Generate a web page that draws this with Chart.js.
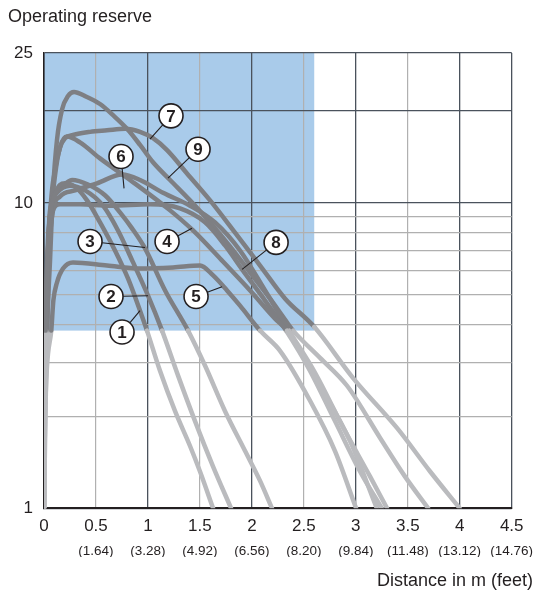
<!DOCTYPE html>
<html>
<head>
<meta charset="utf-8">
<script src="https://cdn.jsdelivr.net/npm/chart.js@4.4.0/dist/chart.umd.min.js"></script>
<style>
html,body{margin:0;padding:0;background:#fff;}
#wrap{width:538px;height:596px;}
</style>
</head>
<body>
<div id="wrap"><canvas id="c" width="538" height="596"></canvas></div>
<script>
// ---------- data ----------
const xTickValues = [0, 0.5, 1, 1.5, 2, 2.5, 3, 3.5, 4, 4.5];
const xTickLabels = ['0', '0.5', '1', '1.5', '2', '2.5', '3', '3.5', '4', '4.5'];
const feetLabels  = ['', '(1.64)', '(3.28)', '(4.92)', '(6.56)', '(8.20)', '(9.84)', '(11.48)', '(13.12)', '(14.76)'];
const yGridValues = [1, 2, 3, 4, 5, 6, 7, 8, 9, 10, 20, 31];
const yLabelValues = [1, 10, 31];
const yLabelTexts  = ['1', '10', '25'];
const yMin = 1, yMax = 31;
const blueXMax = 2.6, blueYMin = 3.82;

const c1x = [0, 0.005, 0.015, 0.048, 0.106, 0.202, 0.298, 0.414, 0.539, 0.683, 0.808, 0.924, 0.991, 1.116, 1.261, 1.405, 1.501, 1.627];
const c1y = [1, 2, 3.82, 8.13, 10.6, 11.6, 11.3, 10.2, 8.64, 6.99, 5.66, 4.44, 3.82, 2.82, 2.08, 1.60, 1.32, 1];
const c2x = [0, 0.006, 0.018, 0.058, 0.125, 0.25, 0.395, 0.568, 0.712, 0.857, 1.001, 1.136, 1.29, 1.453, 1.627, 1.80];
const c2y = [1, 2, 3.82, 9.11, 10.8, 11.4, 11.0, 9.8, 8.13, 6.39, 4.97, 3.82, 2.72, 1.93, 1.37, 1];
const c3x = [0, 0.007, 0.02, 0.058, 0.135, 0.27, 0.423, 0.587, 0.731, 0.847, 0.972, 1.165, 1.386, 1.55, 1.742, 1.935, 2.079, 2.194];
const c3y = [1, 2, 3.82, 9.46, 11.0, 11.9, 11.5, 10.6, 9.32, 8.26, 7.10, 5.17, 3.82, 2.93, 2.08, 1.54, 1.23, 1];
const c4x = [0, 0.008, 0.025, 0.058, 0.106, 0.154, 0.221, 0.346, 0.539, 0.828, 1.213, 1.434, 1.694, 1.983, 2.223, 2.339, 2.656, 2.945, 3.202];
const c4y = [1, 2, 3.82, 8.13, 12.3, 15.2, 16.5, 15.8, 14.0, 11.9, 9.46, 8.13, 6.58, 5.17, 4.18, 3.82, 2.52, 1.66, 1];
const c5x = [0, 0.01, 0.07, 0.09, 0.125, 0.183, 0.279, 0.606, 0.924, 1.242, 1.501, 1.627, 1.761, 1.886, 2.079, 2.271, 2.56, 2.80, 3.003];
const c5y = [1, 2, 3.82, 4.79, 5.49, 6.10, 6.39, 6.24, 6.10, 6.15, 6.24, 5.79, 5.17, 4.61, 3.82, 3.28, 2.25, 1.54, 1];
const c6x = [0, 0.006, 0.02, 0.048, 0.087, 0.154, 0.298, 0.51, 0.751, 0.924, 1.145, 1.405, 1.646, 1.886, 2.127, 2.358, 2.608, 2.897, 3.138, 3.301];
const c6y = [1, 2, 3.82, 6.99, 9.46, 10.5, 11.0, 11.6, 12.4, 11.9, 10.8, 9.8, 8.64, 6.99, 5.17, 3.82, 2.78, 1.79, 1.27, 1];
const c7x = [0, 0.01, 0.03, 0.058, 0.106, 0.154, 0.202, 0.279, 0.443, 0.606, 0.78, 0.924, 1.049, 1.184, 1.376, 1.598, 1.838, 2.079, 2.32, 2.6, 2.974, 3.398, 3.715, 4.0];
const c7y = [1, 2, 3.82, 8.77, 12.8, 15.2, 16.3, 16.7, 17.1, 17.3, 17.5, 17.1, 16.3, 14.9, 12.5, 10.2, 8.0, 6.24, 4.86, 3.93, 2.67, 1.83, 1.32, 1];
const c8x = [0, 0.004, 0.015, 0.038, 0.077, 0.154, 0.346, 0.635, 1.02, 1.309, 1.55, 1.742, 1.906, 2.127, 2.329, 2.56, 2.80, 3.041, 3.25];
const c8y = [1, 2, 3.82, 7.54, 9.32, 9.9, 9.9, 9.8, 9.9, 9.6, 8.64, 7.26, 6.06, 4.79, 3.82, 2.82, 1.93, 1.32, 1];
const c9x = [0, 0.014, 0.029, 0.058, 0.087, 0.125, 0.173, 0.231, 0.289, 0.395, 0.539, 0.664, 0.799, 0.924, 1.049, 1.213, 1.405, 1.598, 1.79, 1.983, 2.175, 2.339, 2.397, 2.656, 2.916, 3.234, 3.474, 3.696];
const c9y = [1, 2, 3.82, 6.48, 11.0, 16.1, 20.2, 22.4, 23.1, 22.4, 21.1, 19.4, 17.5, 15.5, 13.6, 11.9, 10.2, 8.64, 7.21, 5.92, 4.86, 4.06, 3.82, 3.11, 2.52, 1.70, 1.27, 1];

const labelNums = ['1', '2', '3', '4', '5', '6', '7', '8', '9'];
const labelX  = [0.751, 0.645, 0.443, 1.184, 1.463, 0.741, 1.222, 2.233, 1.482];
const labelY  = [3.78, 4.94, 7.48, 7.48, 4.94, 14.2, 19.3, 7.43, 15.0];
const leaderX = [0.924, 1.001, 0.972, 1.424, 1.713, 0.770, 1.020, 1.906, 1.193];
const leaderY = [4.44, 4.97, 7.15, 8.26, 5.32, 11.17, 16.2, 6.06, 12.06];

// ---------- styling ----------
const FONT = '"Liberation Sans", Arial, Helvetica, sans-serif';
const TEXT = '#231f20';
const DARK_LINE = '#7e7f83';
const LIGHT_LINE = '#babbbe';
const BLUE = '#a9cbea';
const GRID_DARK = '#4a525c';
const GRID_LIGHT = '#b0b0b0';

const curvesX = [c1x, c2x, c3x, c4x, c5x, c6x, c7x, c8x, c9x];
const curvesY = [c1y, c2y, c3y, c4y, c5y, c6y, c7y, c8y, c9y];

function inside(x, y) { return x <= blueXMax + 1e-9 && y >= blueYMin - 1e-9; }

const datasets = curvesX.map((xs, k) => ({
  label: 'Curve ' + (k + 1),
  data: xs.map((x, i) => ({ x: x, y: curvesY[k][i] })),
  borderWidth: 4.5,
  borderColor: DARK_LINE,
  pointRadius: 0,
  fill: false,
  cubicInterpolationMode: 'monotone',
  borderCapStyle: 'round',
  borderJoinStyle: 'round',
  segment: {
    borderColor: ctx => {
      const d = ctx.chart.data.datasets[ctx.datasetIndex].data;
      const a = d[ctx.p0DataIndex], b = d[ctx.p1DataIndex];
      return (inside(a.x, a.y) && inside(b.x, b.y)) ? DARK_LINE : LIGHT_LINE;
    }
  }
}));

const bluePlugin = {
  id: 'blueRegion',
  beforeDraw(chart) {
    const { ctx } = chart;
    const xs = chart.scales.x, ys = chart.scales.y;
    const x0 = xs.getPixelForValue(0), x1 = xs.getPixelForValue(blueXMax);
    const y0 = ys.getPixelForValue(yMax), y1 = ys.getPixelForValue(blueYMin);
    ctx.save();
    ctx.fillStyle = BLUE;
    ctx.fillRect(x0, y0, x1 - x0, y1 - y0);
    ctx.restore();
  }
};

const labelPlugin = {
  id: 'circleLabels',
  afterDatasetsDraw(chart) {
    const { ctx } = chart;
    const xs = chart.scales.x, ys = chart.scales.y;
    const r = 12;
    ctx.save();
    for (let i = 0; i < labelNums.length; i++) {
      const cx = xs.getPixelForValue(labelX[i]), cy = ys.getPixelForValue(labelY[i]);
      const tx = xs.getPixelForValue(leaderX[i]), ty = ys.getPixelForValue(leaderY[i]);
      const dx = tx - cx, dy = ty - cy, len = Math.hypot(dx, dy) || 1;
      ctx.beginPath();
      ctx.moveTo(cx + dx / len * r, cy + dy / len * r);
      ctx.lineTo(tx, ty);
      ctx.strokeStyle = TEXT;
      ctx.lineWidth = 1.1;
      ctx.stroke();
      ctx.beginPath();
      ctx.arc(cx, cy, r, 0, Math.PI * 2);
      ctx.fillStyle = '#ffffff';
      ctx.fill();
      ctx.lineWidth = 1.6;
      ctx.strokeStyle = TEXT;
      ctx.stroke();
      ctx.fillStyle = TEXT;
      ctx.font = 'bold 17px ' + FONT;
      ctx.textAlign = 'center';
      ctx.textBaseline = 'middle';
      ctx.fillText(labelNums[i], cx, cy + 1);
    }
    ctx.restore();
  }
};

function setXTicks(scale) { scale.ticks = xTickValues.map(v => ({ value: v })); }

new Chart(document.getElementById('c'), {
  type: 'line',
  data: { datasets: datasets },
  plugins: [bluePlugin, labelPlugin],
  options: {
    responsive: false,
    devicePixelRatio: 1,
    animation: false,
    events: [],
    layout: { padding: { left: 8, right: 5, top: 0, bottom: 0 } },
    plugins: {
      legend: { display: false },
      tooltip: { enabled: false },
      title: {
        display: true, text: 'Operating reserve', align: 'start', color: TEXT,
        font: { family: FONT, size: 18, weight: 'normal' },
        padding: { top: 6, bottom: 25.4 }
      },
      subtitle: {
        display: true, text: 'Distance in m (feet)', position: 'bottom', align: 'end', color: TEXT,
        font: { family: FONT, size: 18, weight: 'normal' },
        padding: { top: 13.5, bottom: 4 }
      }
    },
    scales: {
      x: {
        type: 'linear', position: 'bottom', min: 0, max: 4.5, weight: 0,
        afterBuildTicks: setXTicks,
        afterFit: s => { s.paddingRight = 26.3; },
        ticks: {
          autoSkip: false, maxRotation: 0, padding: 8, color: TEXT,
          font: { family: FONT, size: 17 },
          callback: (v, i) => xTickLabels[i]
        },
        grid: {
          drawTicks: false,
          color: c => (c.tick && (Number.isInteger(c.tick.value) || c.tick.value === 4.5)) ? GRID_DARK : GRID_LIGHT,
          lineWidth: c => (c.tick && (Number.isInteger(c.tick.value) || c.tick.value === 4.5)) ? 1.3 : 1.2
        },
        border: { color: TEXT, width: 2 }
      },
      x2: {
        type: 'linear', position: 'bottom', min: 0, max: 4.5, weight: 1,
        afterBuildTicks: setXTicks,
        ticks: {
          autoSkip: false, maxRotation: 0, padding: -2, color: TEXT,
          font: { family: FONT, size: 13.5 },
          callback: (v, i) => feetLabels[i]
        },
        grid: { display: false, drawTicks: false },
        border: { display: false }
      },
      y: {
        type: 'logarithmic', min: yMin, max: yMax,
        afterBuildTicks: s => { s.ticks = yGridValues.map(v => ({ value: v })); },
        afterFit: s => { s.width = 36; },
        ticks: {
          autoSkip: false, padding: 11, color: TEXT,
          font: { family: FONT, size: 17 },
          callback: v => { const k = yLabelValues.indexOf(v); return k >= 0 ? yLabelTexts[k] : ''; }
        },
        grid: {
          drawTicks: false,
          color: c => (c.tick && [1, 10, 20, 31].includes(c.tick.value)) ? GRID_DARK : GRID_LIGHT,
          lineWidth: c => (c.tick && [1, 10, 20, 31].includes(c.tick.value)) ? 1.3 : 1.2
        },
        border: { color: TEXT, width: 1.5 }
      }
    }
  }
});
</script>
</body>
</html>
